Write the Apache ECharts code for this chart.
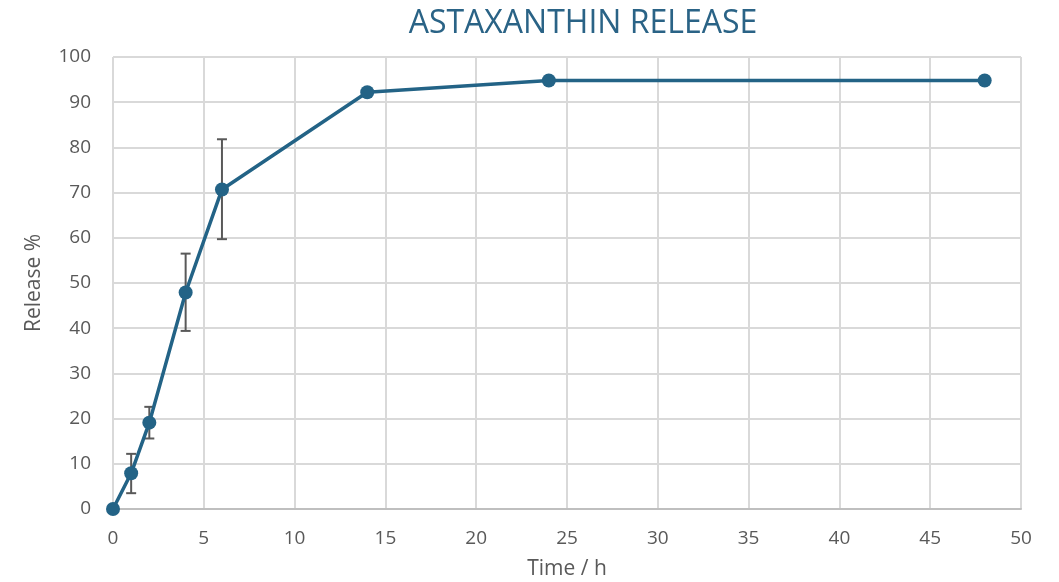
<!DOCTYPE html>
<html>
<head>
<meta charset="utf-8">
<script src="https://cdn.jsdelivr.net/npm/echarts@6/dist/echarts.min.js"></script>
<style>
  html, body { margin: 0; padding: 0; background: #fff; }
  #chart { width: 1059px; height: 582px; }
</style>
</head>
<body>
<div id="chart"></div>
<script>
const times = [0, 1, 2, 4, 6, 14, 24, 48];
const release = [0, 7.9, 19.1, 47.9, 70.7, 92.2, 94.8, 94.8];
// error bars: [time, low, high]
const errTimes = [1, 2, 4, 6];
const errLow = [3.5, 15.6, 39.4, 59.7];
const errHigh = [12.2, 22.6, 56.5, 81.8];

const chart = echarts.init(document.getElementById('chart'));

const lineData = times.map((t, i) => [t, release[i]]);
const errData = errTimes.map((t, i) => [t, errLow[i], errHigh[i]]);

const option = {
  animation: false,
  textStyle: { fontFamily: 'Open Sans' },
  title: {
    text: 'ASTAXANTHIN RELEASE',
    left: 578,
    top: 3,
    textAlign: 'center',
    textStyle: { color: '#2a6386', fontSize: 32, fontWeight: 'normal', fontFamily: 'Open Sans' }
  },
  grid: { left: 113, right: 38, top: 57, bottom: 73, outerBoundsMode: 'none' },
  xAxis: {
    type: 'value',
    min: 0, max: 50, interval: 5,
    name: 'Time / h',
    nameLocation: 'middle',
    nameGap: 50,
    nameTextStyle: { color: '#595959', fontSize: 21 },
    axisLine: { show: true, lineStyle: { color: '#bfbfbf', width: 2 } },
    axisTick: { show: false },
    axisLabel: { color: '#595959', fontSize: 19, margin: 20 },
    splitLine: { show: true, lineStyle: { color: '#d9d9d9', width: 2 } }
  },
  yAxis: {
    type: 'value',
    min: 0, max: 100, interval: 10,
    name: 'Release %',
    nameLocation: 'middle',
    nameGap: 68,
    nameTextStyle: { color: '#595959', fontSize: 21 },
    axisLine: { show: false },
    axisTick: { show: false },
    axisLabel: { color: '#595959', fontSize: 19, margin: 22 },
    splitLine: { show: true, lineStyle: { color: '#d9d9d9', width: 2 } }
  },
  series: [
    {
      type: 'custom',
      z: 1,
      data: errData,
      renderItem: function (params, api) {
        const x = api.value(0);
        const lo = api.coord([x, api.value(1)]);
        const hi = api.coord([x, api.value(2)]);
        const w = 5;
        const style = { stroke: '#595959', lineWidth: 2, fill: null };
        return {
          type: 'group',
          children: [
            { type: 'line', shape: { x1: hi[0], y1: hi[1], x2: lo[0], y2: lo[1] }, style: style },
            { type: 'line', shape: { x1: hi[0] - w, y1: hi[1], x2: hi[0] + w, y2: hi[1] }, style: style },
            { type: 'line', shape: { x1: lo[0] - w, y1: lo[1], x2: lo[0] + w, y2: lo[1] }, style: style }
          ]
        };
      }
    },
    {
      type: 'line',
      z: 3,
      data: lineData,
      symbol: 'circle',
      symbolSize: 14,
      lineStyle: { color: '#236386', width: 3.5 },
      itemStyle: { color: '#236386' }
    }
  ]
};

chart.setOption(option);
</script>
</body>
</html>
